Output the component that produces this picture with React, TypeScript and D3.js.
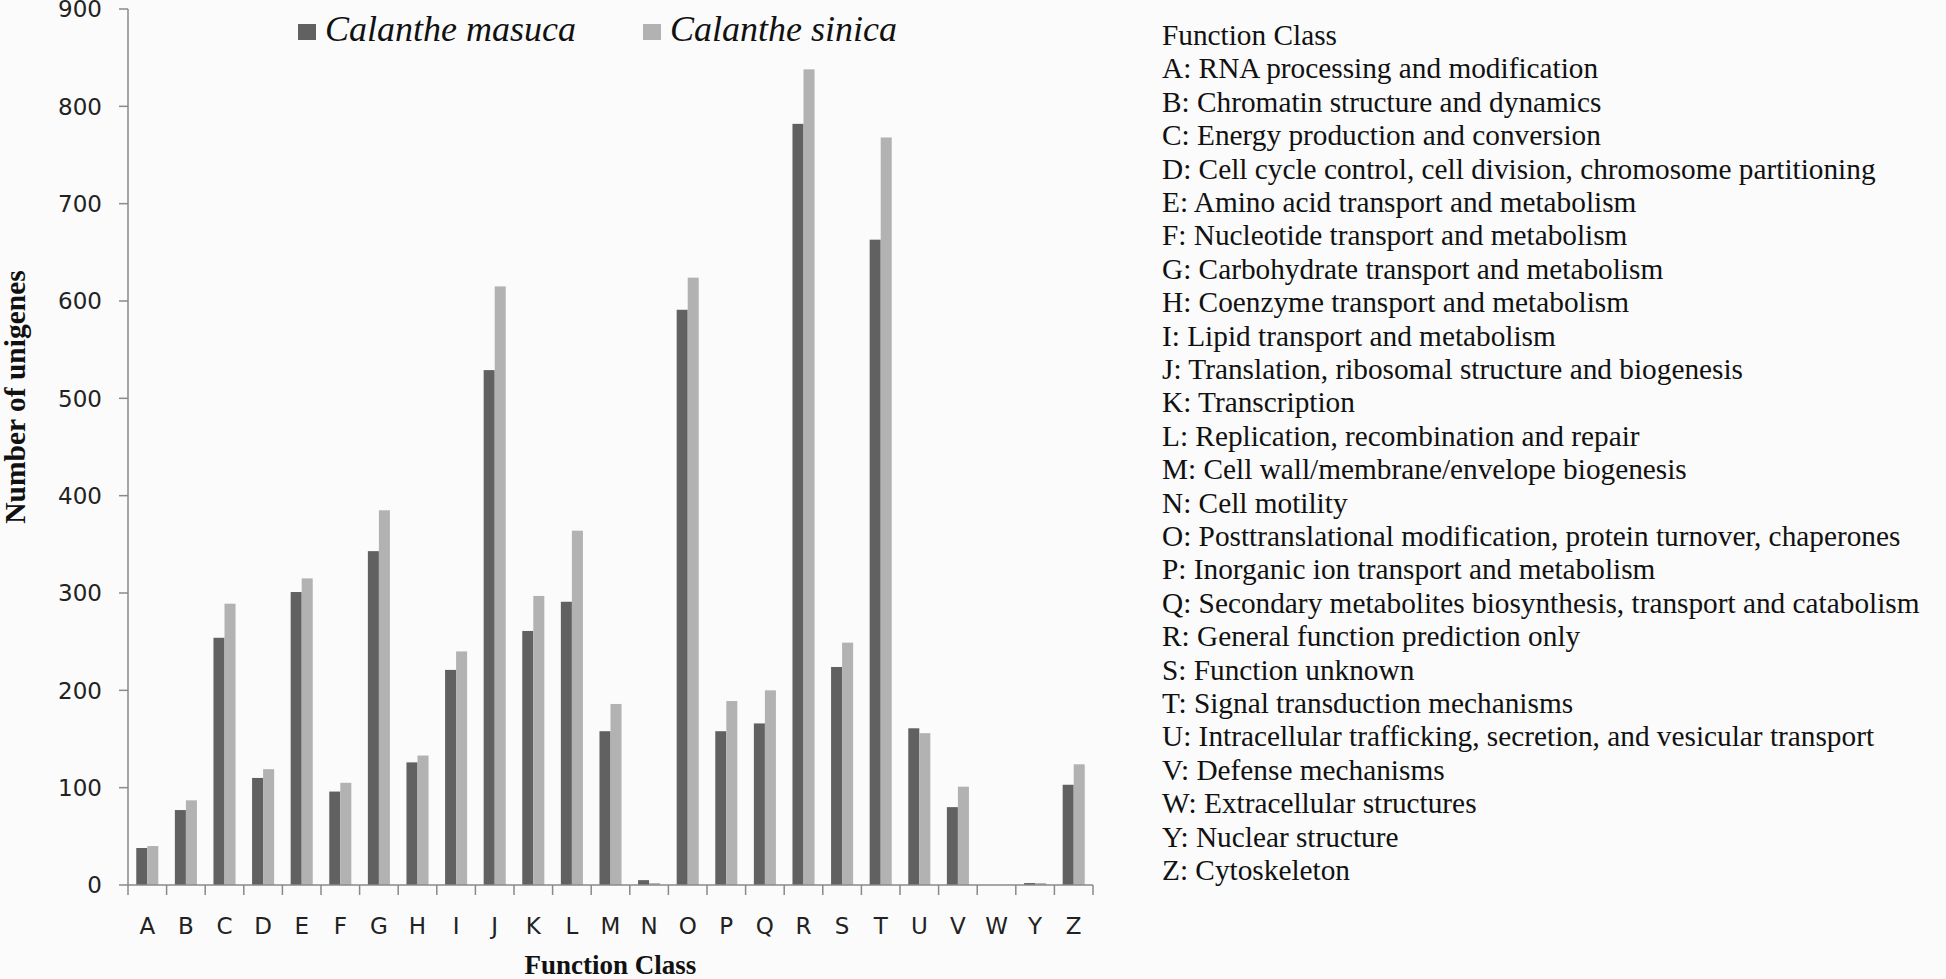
import { scaleBand, scaleLinear, range } from "d3";

const width = 1946;
const height = 979;

const categories = ["A","B","C","D","E","F","G","H","I","J","K","L","M","N","O","P","Q","R","S","T","U","V","W","Y","Z"];
const seriesNames = ["Calanthe masuca", "Calanthe sinica"];
const masuca = [38,77,254,110,301,96,343,126,221,529,261,291,158,5,591,158,166,782,224,663,161,80,0,2,103];
const sinica = [40,87,289,119,315,105,385,133,240,615,297,364,186,2,624,189,200,838,249,768,156,101,0,2,124];
const yTicks = range(0, 901, 100);

const classTitle = "Function Class";
const classNames = [
  "A: RNA processing and modification",
  "B: Chromatin structure and dynamics",
  "C: Energy production and conversion",
  "D: Cell cycle control, cell division, chromosome partitioning",
  "E: Amino acid transport and metabolism",
  "F: Nucleotide transport and metabolism",
  "G: Carbohydrate transport and metabolism",
  "H: Coenzyme transport and metabolism",
  "I: Lipid transport and metabolism",
  "J: Translation, ribosomal structure and biogenesis",
  "K: Transcription",
  "L: Replication, recombination and repair",
  "M: Cell wall/membrane/envelope biogenesis",
  "N: Cell motility",
  "O: Posttranslational modification, protein turnover, chaperones",
  "P: Inorganic ion transport and metabolism",
  "Q: Secondary metabolites biosynthesis, transport and catabolism",
  "R: General function prediction only",
  "S: Function unknown",
  "T: Signal transduction mechanisms",
  "U: Intracellular trafficking, secretion, and vesicular transport",
  "V: Defense mechanisms",
  "W: Extracellular structures",
  "Y: Nuclear structure",
  "Z: Cytoskeleton",
];

const colors = ["#616161", "#b2b2b2"];
const axisColor = "#8a8a8a";
const left = 128;
const right = 1093;
const top = 9;
const bottom = 885;

const x = scaleBand().domain(categories).range([left, right]).padding(0);
const xs = scaleBand().domain(seriesNames).range([0, x.bandwidth()]).paddingInner(0).paddingOuter(0.75);
const y = scaleLinear().domain([0, 900]).range([bottom, top]);

const tickFont = "'DejaVu Sans', Verdana, sans-serif";
const serif = "'Liberation Serif', 'Times New Roman', serif";

export default function App() {
  const series = [masuca, sinica];
  return (
    <svg width={width} height={height} style={{ position: "absolute", left: 0, top: 0 }}>
      <rect width={width} height={height} fill="#fbfbfb" />

      {/* bars */}
      {series.map((vals, si) =>
        vals.map((v, i) => (
          <rect
            key={`${si}-${i}`}
            x={x(categories[i])! + xs(seriesNames[si])!}
            y={y(v)}
            width={xs.bandwidth()}
            height={bottom - y(v)}
            fill={colors[si]}
          />
        ))
      )}

      {/* y axis */}
      <line x1={left} x2={left} y1={y(900)} y2={bottom} stroke={axisColor} strokeWidth={1.5} />
      {yTicks.map((t) => (
        <g key={t}>
          <line x1={left - 9} x2={left} y1={y(t)} y2={y(t)} stroke={axisColor} strokeWidth={1.5} />
          <text x={102} y={y(t)} dy="0.36em" textAnchor="end" fontFamily={tickFont} fontSize={23} fill="#222">
            {t}
          </text>
        </g>
      ))}

      {/* x axis */}
      <line x1={left} x2={right} y1={bottom} y2={bottom} stroke={axisColor} strokeWidth={1.5} />
      {categories.concat(["end"]).map((c, i) => {
        const xx = i < categories.length ? x(c)! : right;
        return <line key={`t${i}`} x1={xx} x2={xx} y1={bottom} y2={bottom + 10} stroke={axisColor} strokeWidth={1.5} />;
      })}
      {categories.map((c) => (
        <text key={c} x={x(c)! + x.bandwidth() / 2} y={934} textAnchor="middle" fontFamily={tickFont} fontSize={23} fill="#222">
          {c}
        </text>
      ))}

      {/* axis titles */}
      <text x={(left + right) / 2} y={974} textAnchor="middle" fontFamily={serif} fontWeight="bold" fontSize={27} fill="#111">
        Function Class
      </text>
      <text
        transform="translate(25, 397) rotate(-90)"
        textAnchor="middle"
        fontFamily={serif}
        fontWeight="bold"
        fontSize={29.5}
        fill="#111"
      >
        Number of unigenes
      </text>

      {/* legend */}
      {seriesNames.map((s, i) => {
        const lx = [298, 643][i];
        return (
          <g key={s}>
            <rect x={lx} y={24} width={18} height={16} fill={colors[i]} />
            <text x={lx + 27} y={41} fontFamily={serif} fontStyle="italic" fontSize={36} fill="#111">
              {s}
            </text>
          </g>
        );
      })}

      {/* function class list */}
      <text x={1162} y={45} fontFamily={serif} fontSize={29.3} fill="#111">
        {classTitle}
      </text>
      {classNames.map((d, i) => (
        <text key={d} x={1162} y={45 + (i + 1) * 33.4} fontFamily={serif} fontSize={29.3} fill="#111">
          {d}
        </text>
      ))}
    </svg>
  );
}
